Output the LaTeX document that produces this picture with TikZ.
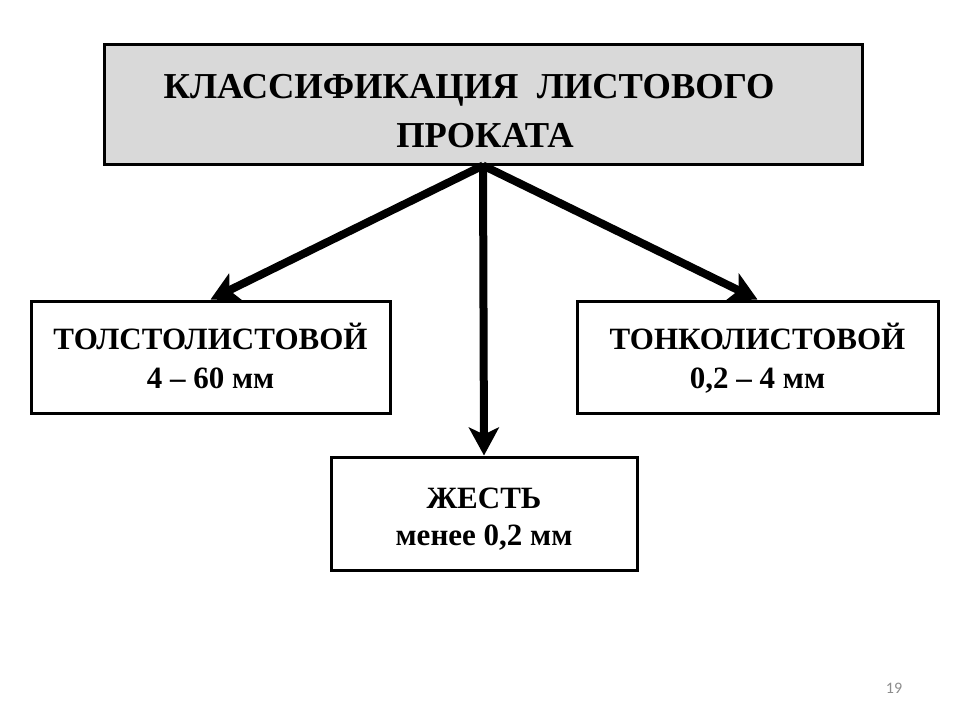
\documentclass[tikz,border=0pt]{standalone}
\usepackage{fontspec}
\setmainfont{Liberation Serif}
\newfontfamily\pagefont{Carlito}
\usetikzlibrary{arrows.meta}
\definecolor{boxgray}{HTML}{D9D9D9}
\definecolor{numgray}{HTML}{8C8C8C}
\begin{document}
\begin{tikzpicture}[x=1pt,y=-1pt,
  box/.style={draw=black,line width=3pt,fill=white,inner sep=0pt},
  titlebox/.style={box,fill=boxgray},
  titletext/.style={anchor=base,inner sep=0pt,font=\bfseries\fontsize{36.5}{40}\selectfont},
  boxtext/.style={anchor=base,inner sep=0pt,font=\bfseries\fontsize{31}{36}\selectfont},
  arr/.style={line width=8pt,-{Stealth[length=28pt,width=30pt,inset=7pt]}}]
\path[use as bounding box,fill=white] (0,0) rectangle (960,720);
% boxes
\node[titlebox,minimum width=758,minimum height=120] (top) at (483,104) {};
\node[titletext] (t1) at (469,98) {КЛАССИФИКАЦИЯ\ \ ЛИСТОВОГО};
\node[titletext] (t2) at (485,147) {ПРОКАТА};
\node[box,minimum width=359,minimum height=112] (thick) at (210.5,357) {};
\node[boxtext] (thick1) at (210.5,349) {ТОЛСТОЛИСТОВОЙ};
\node[boxtext] (thick2) at (210.5,388) {4 – 60 мм};
\node[box,minimum width=361,minimum height=112] (thin) at (757.5,357) {};
\node[boxtext] (thin1) at (757.5,349) {ТОНКОЛИСТОВОЙ};
\node[boxtext] (thin2) at (757.5,388) {0,2 – 4 мм};
\node[box,minimum width=306,minimum height=113] (tin) at (484,513.5) {};
\node[boxtext] (tin1) at (484,508) {ЖЕСТЬ};
\node[boxtext] (tin2) at (484,545) {менее 0,2 мм};
% arrows
\draw[arr] (top.south) -- (thick.north);
\draw[arr] (top.south) -- (thin.north);
\draw[arr] (top.south) -- (tin.north);
% page number
\node[font=\pagefont\fontsize{16}{18}\selectfont,text=numgray] (pg) at (894,688) {19};
\end{tikzpicture}
\end{document}
